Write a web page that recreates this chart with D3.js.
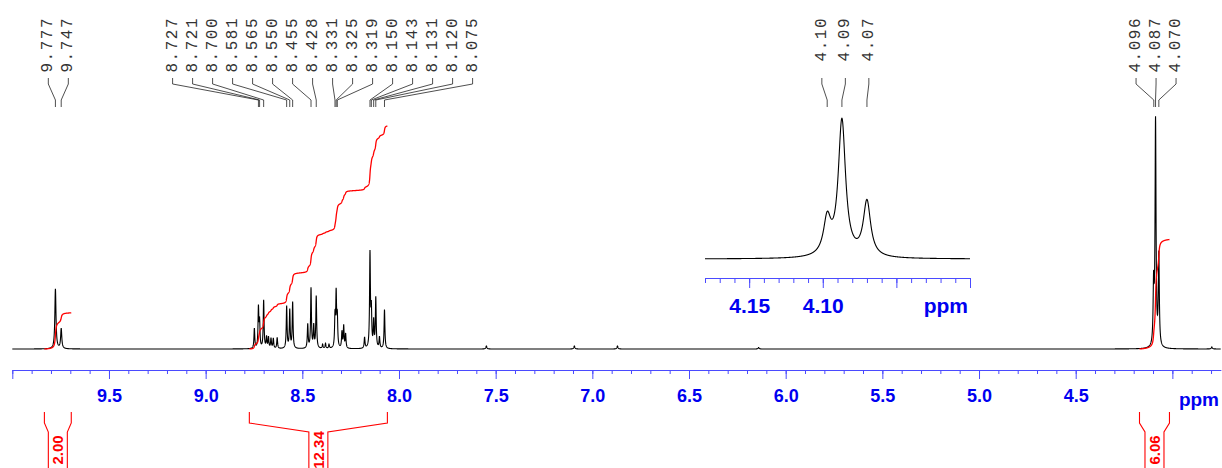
<!DOCTYPE html>
<html><head><meta charset="utf-8">
<script src="https://cdn.jsdelivr.net/npm/d3@7"></script>
<style>body{margin:0;background:#fff}svg{display:block}</style>
</head><body>
<svg id="c" width="1222" height="468"></svg>
<script>
// ---------------- data ----------------
const peakPpm    = [9.777, 9.747,
  8.748, 8.727, 8.721, 8.700, 8.685, 8.675, 8.662, 8.650, 8.630,
  8.581, 8.565, 8.550, 8.472, 8.455, 8.441, 8.428, 8.395, 8.380, 8.362,
  8.331, 8.325, 8.319, 8.295, 8.286, 8.276, 8.178, 8.150, 8.143, 8.131, 8.120, 8.101, 8.075,
  7.548, 7.093, 6.870, 6.140,
  4.097, 4.087, 4.070, 3.796];
const peakHeight = [60, 20,
  20, 40, 25, 48, 11, 11, 10, 10, 11,
  42, 38, 46, 24, 60, 22, 52, 4, 5, 4,
  30, 52, 30, 16, 22, 14, 11, 94, 36, 26, 50, 11, 39,
  3, 3, 3, 1.5,
  59, 225, 91, 2];
const peakWidth  = [0.0035, 0.0035,
  0.0025, 0.0025, 0.0025, 0.0025, 0.0025, 0.0025, 0.0025, 0.0025, 0.0025,
  0.0025, 0.0025, 0.0025, 0.0025, 0.0025, 0.0025, 0.0025, 0.0025, 0.0025, 0.0025,
  0.0025, 0.0025, 0.0025, 0.0025, 0.0025, 0.0025, 0.0025, 0.0025, 0.0025, 0.0025, 0.0025, 0.0025, 0.0025,
  0.003, 0.003, 0.003, 0.003,
  0.003, 0.003, 0.003, 0.003];

const labelsA = ["9.777", "9.747"];
const labelsB = ["8.727", "8.721", "8.700", "8.581", "8.565", "8.550", "8.455", "8.428",
                 "8.331", "8.325", "8.319", "8.150", "8.143", "8.131", "8.120", "8.075"];
const labelsC = ["4.096", "4.087", "4.070"];
const insetLabels = ["4.10", "4.09", "4.07"];
const insetLabelPpm = [4.097, 4.087, 4.070];

const integralFrom   = [9.834, 8.774, 4.170];
const integralTo     = [9.695, 8.060, 4.015];
const integralValues = [2.00, 12.34, 6.06];

const majorTicks = [10.0, 9.5, 9.0, 8.5, 8.0, 7.5, 7.0, 6.5, 6.0, 5.5, 5.0, 4.5, 4.0];
const majorTickLabels = ["", "9.5", "9.0", "8.5", "8.0", "7.5", "7.0", "6.5", "6.0", "5.5", "5.0", "4.5", ""];
const insetMajorTicks = [4.15, 4.10, 4.05, 4.00];
const insetTickLabels = ["4.15", "4.10", "", ""];

// ---------------- drawing ----------------
const svg = d3.select("#c");
const BLUE_LINE = "#4a4aff", BLUE_TXT = "#0000f0", RED = "#ff0000";

const x  = d3.scaleLinear().domain([10.0, 3.75]).range([12.3, 1220.7]);
const y  = d3.scaleLinear().domain([0, 233]).range([349, 116]);
const xi = d3.scaleLinear().domain([4.18, 4.00]).range([705, 970]);
const yi = d3.scaleLinear().domain([0, 233]).range([259, 118]);
const iy = d3.scaleLinear().domain([0, 12.34]).range([349, 126]);

function spec(p) {
  let s = 0;
  for (let i = 0; i < peakPpm.length; i++) {
    const g = peakWidth[i], d = p - peakPpm[i];
    s += peakHeight[i] * g * g / (g * g + d * d);
  }
  return s;
}
function sample(p0, p1, n) {
  const out = [];
  for (let i = 0; i <= n; i++) { const p = p0 + (p1 - p0) * i / n; out.push([p, spec(p)]); }
  return out;
}

// main spectrum
const mainData = sample(10.0, 3.75, 12500);
svg.append("path").datum(mainData)
  .attr("d", d3.line().x(d => x(d[0])).y(d => y(d[1])))
  .attr("fill", "none").attr("stroke", "#000").attr("stroke-width", 1.1);

// integrals
integralFrom.forEach((f, k) => {
  const t = integralTo[k];
  const pts = sample(f, t, 2000);
  let c = 0; const cum = pts.map(d => (c += d[1], [d[0], c]));
  const tot = c;
  svg.append("path").datum(cum)
    .attr("d", d3.line().x(d => x(d[0])).y(d => iy(d[1] / tot * integralValues[k])))
    .attr("fill", "none").attr("stroke", RED).attr("stroke-width", 1.3);
  // bracket
  const x1 = x(f), x2 = x(t), xm = (x1 + x2) / 2;
  const br = svg.append("g").attr("stroke", RED).attr("fill", "none").attr("stroke-width", 1.1);
  br.append("path").attr("d", `M${x1},412V423L${xm - 9.5},432V470`);
  br.append("path").attr("d", `M${x2},412V423L${xm + 9.5},432V470`);
  svg.append("text").attr("transform", `translate(${xm},450) rotate(-90)`)
    .attr("text-anchor", "middle").attr("dominant-baseline", "central")
    .attr("font-family", "Liberation Sans, Arial, sans-serif").attr("font-weight", "bold")
    .attr("font-size", 15).attr("fill", RED).text(integralValues[k].toFixed(2));
});

// main axis
const minorTicks = d3.range(38, 101).map(v => v / 10);
const axG = svg.append("g").attr("transform", "translate(0,370)");
axG.call(d3.axisBottom(x).tickValues(minorTicks).tickSize(4).tickSizeOuter(0).tickFormat(""));
const axM = svg.append("g").attr("transform", "translate(0,370)");
axM.call(d3.axisBottom(x).tickValues(majorTicks).tickSize(9).tickSizeOuter(0).tickPadding(10)
  .tickFormat((d, i) => majorTickLabels[i]));
[axG, axM].forEach(g => { g.selectAll("path,line").attr("stroke", BLUE_LINE); });
axM.selectAll("text").attr("fill", BLUE_TXT).attr("font-family", "Liberation Sans, Arial, sans-serif")
  .attr("font-weight", "bold").attr("font-size", 18);
svg.append("text").attr("x", 1219).attr("y", 406).attr("text-anchor", "end")
  .attr("font-family", "Liberation Sans, Arial, sans-serif").attr("font-weight", "bold")
  .attr("font-size", 19).attr("fill", BLUE_TXT).text("ppm");

// inset spectrum
const insetData = sample(4.18, 4.00, 3000);
svg.append("path").datum(insetData)
  .attr("d", d3.line().x(d => xi(d[0])).y(d => yi(d[1])))
  .attr("fill", "none").attr("stroke", "#000").attr("stroke-width", 1.1);
const insetMinor = d3.range(400, 419).map(v => v / 100);
const iaG = svg.append("g").attr("transform", "translate(0,278)");
iaG.call(d3.axisBottom(xi).tickValues(insetMinor).tickSize(5).tickSizeOuter(0).tickFormat(""));
const iaM = svg.append("g").attr("transform", "translate(0,278)");
iaM.call(d3.axisBottom(xi).tickValues(insetMajorTicks).tickSize(10).tickSizeOuter(0).tickPadding(10)
  .tickFormat((d, i) => insetTickLabels[i]));
[iaG, iaM].forEach(g => { g.selectAll("path,line").attr("stroke", BLUE_LINE); });
iaM.selectAll("text").attr("fill", BLUE_TXT).attr("font-family", "Liberation Sans, Arial, sans-serif")
  .attr("font-weight", "bold").attr("font-size", 21);
svg.append("text").attr("x", 968).attr("y", 313).attr("text-anchor", "end")
  .attr("font-family", "Liberation Sans, Arial, sans-serif").attr("font-weight", "bold")
  .attr("font-size", 21).attr("fill", BLUE_TXT).text("ppm");

// peak labels
function labelGroup(texts, ppms, scale, spacing) {
  const px = ppms.map(p => scale(p));
  const c = d3.mean(px), n = texts.length;
  texts.forEach((t, i) => {
    const lx = c + (i - (n - 1) / 2) * spacing;
    svg.append("text").attr("transform", `translate(${lx},17) rotate(-90)`)
      .attr("text-anchor", "end").attr("dominant-baseline", "central")
      .attr("font-family", "Liberation Mono, monospace").attr("font-size", 16)
      .attr("letter-spacing", 1.5).attr("fill", "#333").text(t);
    svg.append("path").attr("d", `M${lx},78V84L${px[i]},100V107`)
      .attr("fill", "none").attr("stroke", "#222").attr("stroke-width", 0.8);
  });
}
labelGroup(labelsA, labelsA.map(Number), x, 20);
labelGroup(labelsB, labelsB.map(Number), x, 20);
labelGroup(labelsC, labelsC.map(Number), x, 20);
labelGroup(insetLabels, insetLabelPpm, xi, 23.5);
</script>
</body></html>
